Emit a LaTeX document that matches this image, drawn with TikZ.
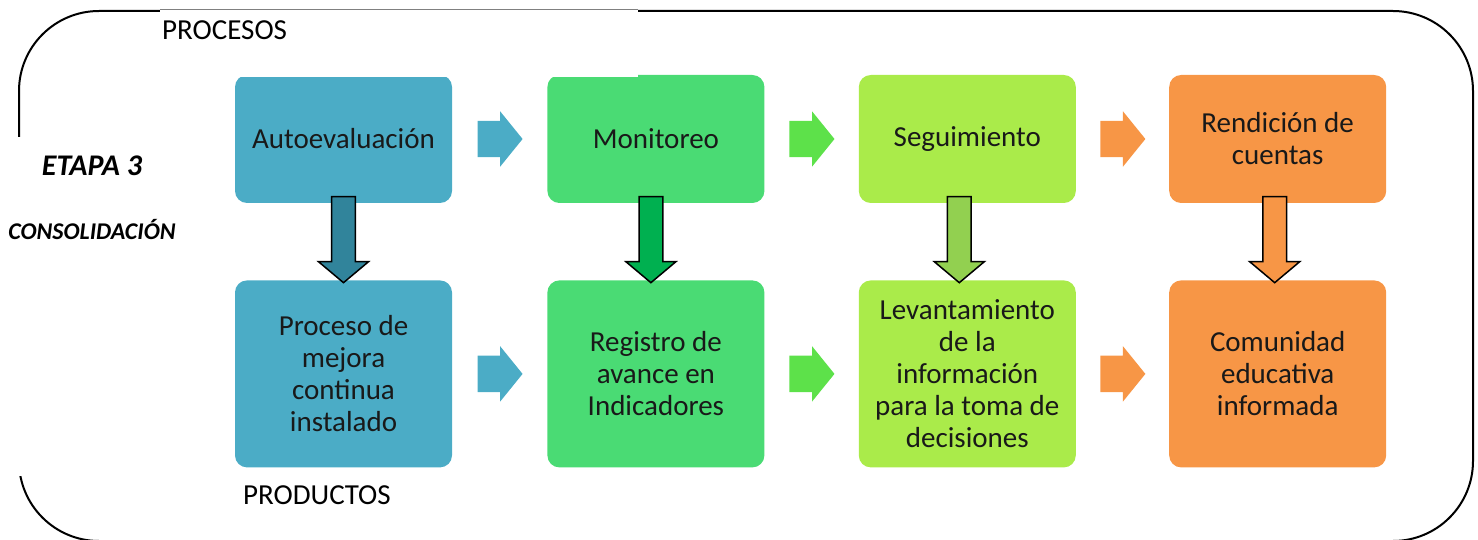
\documentclass[tikz,border=0pt]{standalone}
\usepackage{fontspec}
\setmainfont{Carlito}
\usetikzlibrary{positioning,shapes.arrows,calc}

\definecolor{azul}{HTML}{4BACC6}
\definecolor{azulosc}{HTML}{31849B}
\definecolor{verde}{HTML}{4ADB74}
\definecolor{verdef}{HTML}{5DE14A}
\definecolor{verdeosc}{HTML}{00B050}
\definecolor{lima}{HTML}{AAEB4A}
\definecolor{limaosc}{HTML}{92D050}
\definecolor{naranja}{HTML}{F79646}

\begin{document}
\begin{tikzpicture}[x=1pt,y=-1pt,
  caja/.style={rounded corners=12pt,minimum width=217pt,minimum height=128pt,
    align=center,inner sep=0pt,font=\fontsize{29}{32}\selectfont,text=black!90},
  fder/.style={single arrow,minimum height=45pt,minimum width=55pt,
    single arrow head extend=9.5pt,single arrow tip angle=102,
    inner xsep=0pt,inner ysep=18pt,xshift=-7pt},
  fabajo/.style={single arrow,draw=black,line width=1.5pt,shape border rotate=270,
    minimum height=86pt,minimum width=50pt,single arrow head extend=13pt,
    single arrow tip angle=100,inner xsep=11pt,inner ysep=0pt,yshift=7pt},
  rotulo/.style={font=\fontsize{29}{32}\selectfont,inner sep=0pt,anchor=west}]

  \useasboundingbox (0,0) rectangle (1478,540);

  % marco
  \draw[line width=2pt,rounded corners=80pt] (19,11) rectangle (1473,541);

  % procesos
  \node[caja,fill=azul] (auto) at (343.5,139) {Autoevaluación};
  \node[caja,fill=verde] (moni) [right=95pt of auto] {Monitoreo};
  \node[caja,fill=lima] (segui) [right=94pt of moni] {Seguimiento};
  \node[caja,fill=naranja] (rendi) [right=93pt of segui] {Rendición de\\cuentas};

  % productos
  \node[caja,fill=azul,minimum height=187pt] (mejora) [below=77pt of auto]
    {Proceso de\\mejora\\continua\\instalado};
  \node[caja,fill=verde,minimum height=187pt] (registro) [below=77pt of moni]
    {Registro de\\avance en\\Indicadores};
  \node[caja,fill=lima,minimum height=187pt] (levanta) [below=77pt of segui]
    {Levantamiento\\de la\\información\\para la toma de\\decisiones};
  \node[caja,fill=naranja,minimum height=187pt] (comunidad) [below=77pt of rendi]
    {Comunidad\\educativa\\informada};

  % tapas del marco
  \fill[white] (160,10) rectangle (638,77);
  \draw[gray,line width=1pt] (160,10) -- (638,10);
  \fill[white] (0,137) rectangle (200,476);

  % flechas
  \node[fder,fill=azul] (f1) at ($(auto.east)!0.5!(moni.west)$) {};
  \node[fder,fill=verdef] (f2) at ($(moni.east)!0.5!(segui.west)$) {};
  \node[fder,fill=naranja] (f3) at ($(segui.east)!0.5!(rendi.west)$) {};
  \node[fder,fill=azul] (g1) at ($(mejora.east)!0.5!(registro.west)$) {};
  \node[fder,fill=verdef] (g2) at ($(registro.east)!0.5!(levanta.west)$) {};
  \node[fder,fill=naranja] (g3) at ($(levanta.east)!0.5!(comunidad.west)$) {};

  \node[fabajo,fill=azulosc] (b1) at ($(auto.south)!0.5!(mejora.north)$) {};
  \node[fabajo,fill=verdeosc,xshift=-5pt] (b2) at ($(moni.south)!0.5!(registro.north)$) {};
  \node[fabajo,fill=limaosc,xshift=-8pt] (b3) at ($(segui.south)!0.5!(levanta.north)$) {};
  \node[fabajo,fill=naranja,xshift=-3pt] (b4) at ($(rendi.south)!0.5!(comunidad.north)$) {};

  % rotulos
  \node[rotulo] (procesos) at (162,30) {PROCESOS};
  \node[rotulo] (productos) at (243,495) {PRODUCTOS};
  \node[font=\fontsize{30}{34}\selectfont\bfseries\itshape] (etapa) at (92,166) {ETAPA 3};
  \node[font=\fontsize{24}{28}\selectfont\bfseries\itshape] (consol) at (92,230) {CONSOLIDACIÓN};
\end{tikzpicture}
\end{document}
